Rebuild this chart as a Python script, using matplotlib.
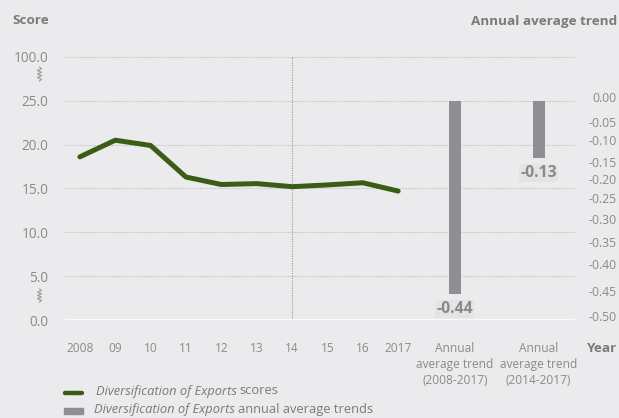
import matplotlib
matplotlib.use("Agg")
import matplotlib.pyplot as plt
from matplotlib.lines import Line2D
from matplotlib.patches import Rectangle
import numpy as np

plt.rcParams['font.family'] = ['Open Sans', 'DejaVu Sans']

# ---- data ----
years = ["2008", "09", "10", "11", "12", "13", "14", "15", "16", "2017"]
scores = [18.6, 20.5, 19.9, 16.3, 15.45, 15.55, 15.2, 15.4, 15.65, 14.7]
trend_labels = ["Annual\naverage trend\n(2008-2017)", "Annual\naverage trend\n(2014-2017)"]
trends = [-0.44, -0.13]
left_tick_labels = ["0.0", "5.0", "10.0", "15.0", "20.0", "25.0", "100.0"]
right_tick_labels = ["0.00", "-0.05", "-0.10", "-0.15", "-0.20", "-0.25",
                     "-0.30", "-0.35", "-0.40", "-0.45", "-0.50"]

# ---- layout / style ----
BG = "#ebebed"
GREEN = "#3b5c14"
BARGREY = "#8f8f93"
TXT = "#8a8a8a"
HEAD = "#7a7a7a"
GRID = "#bdbdbd"
left_tick_pos = [0, 5, 10, 15, 20, 25, 30]          # 100.0 sits on a broken axis
right_tick_pos = [0.009, -0.047, -0.089, -0.139, -0.178, -0.221,
                  -0.269, -0.322, -0.372, -0.433, -0.492]
bar_pos = [10.6, 12.97]
W, H = 619, 418

fig = plt.figure(figsize=(W / 100, H / 100), dpi=100, facecolor=BG)
ax_l, ax_r, ax_b, ax_t = 65, 575, 320, 52.5
ax = fig.add_axes([ax_l / W, 1 - ax_b / H, (ax_r - ax_l) / W, (ax_b - ax_t) / H])
ax.set_facecolor(BG)
x = np.arange(len(years))
ax.set_xlim(-0.42, 14.0)
ax.set_ylim(0, 30.5)

for s in ax.spines.values():
    s.set_visible(False)

# gridlines
for p in left_tick_pos[1:]:
    ax.axhline(p, color=GRID, lw=0.8, ls=(0, (1, 1.2)), zorder=1)
ax.axhline(0, color="white", lw=1.8, zorder=2)
ax.plot([6, 6], [0, 30], color="#9a9a9a", lw=0.8, ls=(0, (1, 1.2)), zorder=1)

ax.plot(x, scores, color=GREEN, lw=3.6, solid_capstyle="round",
        solid_joinstyle="round", zorder=4)

ax.set_yticks(left_tick_pos)
ax.set_yticklabels(left_tick_labels)
ax.set_xticks(list(x) + bar_pos)
ax.set_xticklabels(years + trend_labels)
ax.tick_params(axis="both", length=0, colors=TXT, labelsize=8.6)
ax.tick_params(axis="y", pad=12, labelsize=9.8)
ax.tick_params(axis="x", pad=16)
for lab in ax.get_xticklabels():
    lab.set_linespacing(1.3)

# right axis with bars
ax2 = ax.twinx()
ax2.set_ylim(-0.5, 0.1107)
for s in ax2.spines.values():
    s.set_visible(False)
ax2.bar(bar_pos, trends, width=0.34, color=BARGREY, zorder=3)
for bp, v in zip(bar_pos, trends):
    ax2.annotate(f"{v:.2f}", (bp, v), xytext=(0, -11), textcoords="offset points",
                 ha="center", va="center", fontsize=11.3, fontweight="bold",
                 color=TXT,
                 bbox=dict(boxstyle="square,pad=0.08", fc="#e4e4e6", ec="none"))
ax2.set_yticks(right_tick_pos)
ax2.set_yticklabels(right_tick_labels)
ax2.tick_params(axis="y", length=0, colors=TXT, labelsize=8.8, pad=30)
for lab in ax2.get_yticklabels():
    lab.set_horizontalalignment("right")

# headings
fig.text(12 / W, 1 - 21 / H, "Score", fontsize=9.7, fontweight="bold", color=HEAD,
         va="center", ha="left")
fig.text(617 / W, 1 - 22 / H, "Annual average trend", fontsize=9.7, fontweight="bold",
         color=HEAD, va="center", ha="right")
fig.text(617 / W, 1 - 348 / H, "Year", fontsize=9.7, fontweight="bold",
         color=HEAD, va="center", ha="right")

# axis-break squiggles
def squiggle(xc, y0, y1):
    ys = np.linspace(y0, y1, 9)
    xs = xc + np.array([0, 2, -2, 2, -2, 2, -2, 2, 0])
    fig.add_artist(Line2D(xs / W, 1 - ys / H, color="#9a9a9a", lw=0.8))

squiggle(39.5, 67, 81)
squiggle(39.5, 289, 302)

# legend
fig.add_artist(Line2D([65 / W, 82 / W], [1 - 393 / H] * 2, color=GREEN, lw=3.2,
                      solid_capstyle="round"))
fig.add_artist(Rectangle((64 / W, 1 - 414 / H), 19 / W, 6 / H, color=BARGREY,
                         transform=fig.transFigure))

fig.canvas.draw()
rend = fig.canvas.get_renderer()

def mixed(x0, yc, italic, normal):
    t = fig.text(x0 / W, 1 - yc / H, italic, style="italic", fontsize=9.3,
                 color=HEAD, va="center", ha="left")
    bb = t.get_window_extent(renderer=rend)
    fig.text((bb.x1 + 3) / W, 1 - yc / H, normal, fontsize=9.3, color=HEAD,
             va="center", ha="left")

mixed(96, 391, "Diversification of Exports", "scores")
mixed(94, 410, "Diversification of Exports", "annual average trends")

fig.savefig("out.png", dpi=100, facecolor=BG)
